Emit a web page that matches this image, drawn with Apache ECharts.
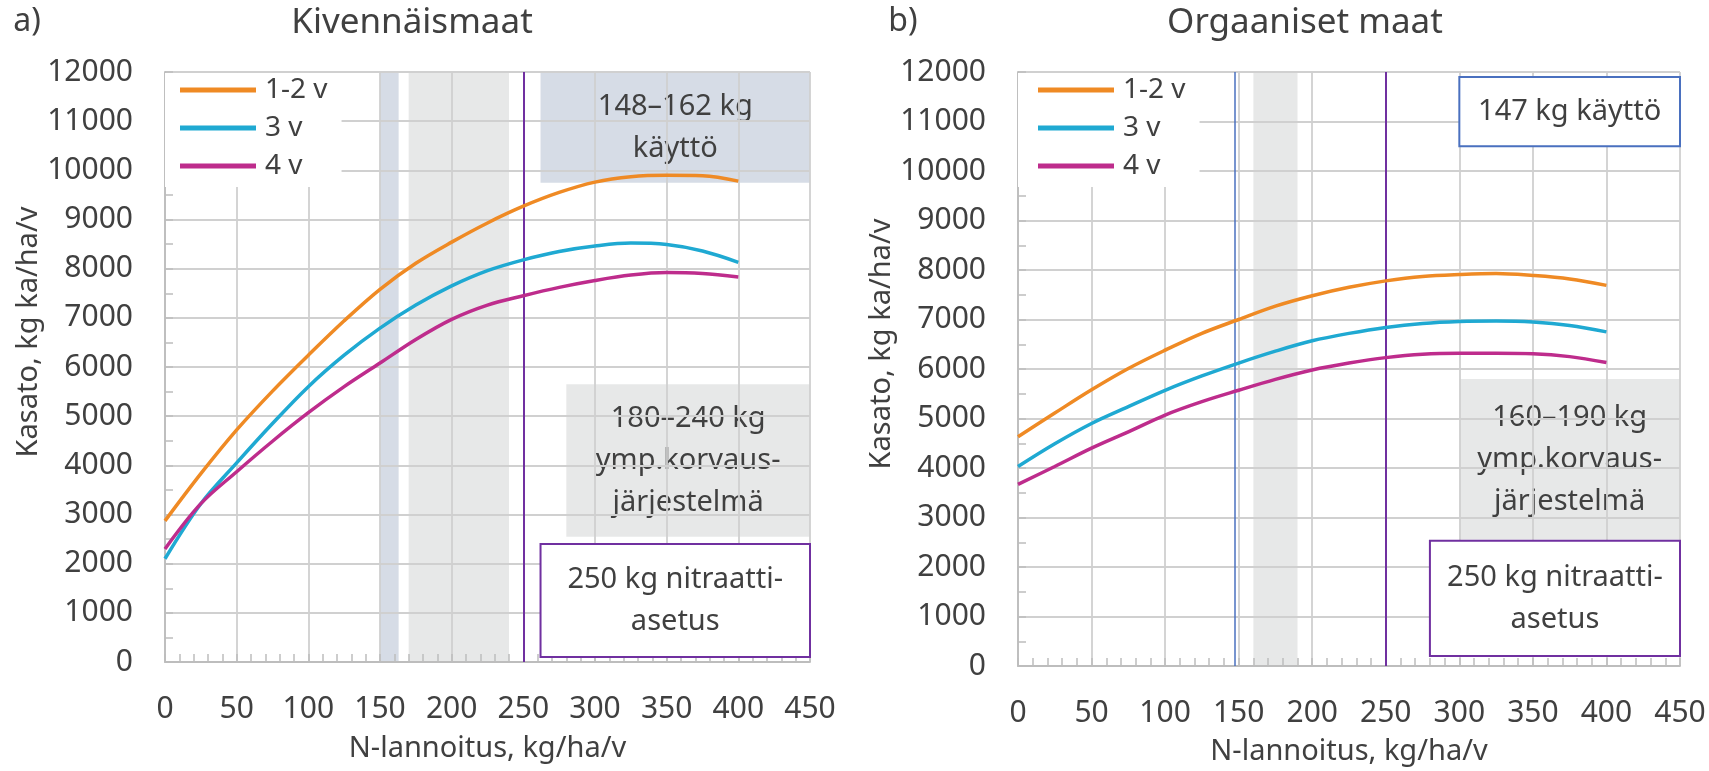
<!DOCTYPE html>
<html>
<head>
<meta charset="utf-8">
<title>Kasato ja N-lannoitus</title>
<script src="https://cdn.jsdelivr.net/npm/echarts@6/dist/echarts.min.js"></script>
<style>
  html, body { margin: 0; padding: 0; background: #fff; }
  #chart { width: 1709px; height: 771px; }
</style>
</head>
<body>
<div id="chart"></div>
<script>
// N-lannoitus, kg/ha/v
var nRates = [0, 25, 50, 75, 100, 125, 150, 175, 200, 225, 250, 275, 300, 325, 350, 375, 400];
var seriesNames = ['1-2 v', '3 v', '4 v'];

// a) Kivennäismaat, kg ka/ha/v
var kivYield12 = [2870, 3830, 4720, 5510, 6240, 6940, 7580, 8110, 8540, 8930, 9270, 9550, 9760, 9870, 9900, 9890, 9780];
var kivYield3 = [2100, 3220, 4050, 4850, 5600, 6240, 6790, 7260, 7650, 7960, 8180, 8350, 8460, 8520, 8490, 8360, 8130];
var kivYield4 = [2300, 3220, 3870, 4490, 5070, 5600, 6080, 6560, 6970, 7260, 7450, 7620, 7760, 7870, 7920, 7900, 7830];

// b) Orgaaniset maat, kg ka/ha/v
var orgYield12 = [4630, 5110, 5580, 6010, 6380, 6720, 7000, 7270, 7480, 7650, 7780, 7870, 7910, 7930, 7890, 7820, 7690];
var orgYield3 = [4030, 4490, 4900, 5240, 5570, 5860, 6120, 6360, 6570, 6720, 6840, 6920, 6960, 6970, 6950, 6880, 6750];
var orgYield4 = [3670, 4030, 4400, 4730, 5070, 5340, 5570, 5790, 5980, 6120, 6230, 6300, 6320, 6320, 6310, 6250, 6130];

// rajat ja laatikot (x kg/ha/v, y kg ka/ha/v)
var kivUseBand = [150, 163];
var kivSubsidyBand = [170, 240];
var kivUseBox = [262, 9750, 450, 12000];
var kivSubsidyBox = [280, 2550, 450, 5650];
var kivNitrateBox = [262, 100, 450, 2400];
var kivUseText = ['148–162 kg', 'käyttö'];
var kivSubsidyText = ['180–240 kg', 'ymp.korvaus-', 'järjestelmä'];

var orgSubsidyBand = [160, 190];
var orgUseBox = [300, 10500, 450, 11900];
var orgSubsidyBox = [300, 2550, 450, 5800];
var orgNitrateBox = [280, 200, 450, 2530];
var orgUseText = ['147 kg käyttö'];
var orgSubsidyText = ['160–190 kg', 'ymp.korvaus-', 'järjestelmä'];
var orgUseLimit = 147;

var nitrateLimit = 250;
var nitrateText = ['250 kg nitraatti-', 'asetus'];

var yMax = 12000;

var FONT = '"Noto Sans", "Open Sans", sans-serif';
var TEXT = '#404040';
var colors = ['#EF8A24', '#1FA9D2', '#BE2C8C'];
var BLUE_FILL = '#D6DCE6';
var GRAY_FILL = '#E7E8E8';
var PURPLE = '#7030A0';
var BLUE_LINE = '#4A70BF';
var GRID_LINE = '#d0d0d0';
var AXIS_LINE = '#bdbdbd';

function pairs(ys) {
  return nRates.map(function (x, i) { return [x, ys[i]]; });
}

function band(r, fill) {
  return { rect: [r[0], 0, r[1], yMax], fill: fill };
}

// laatikot piirretään akseleiden kautta (api.coord)
function shapeSeries(idx, shapes, z) {
  return {
    type: 'custom',
    name: 'shapes' + idx + '_' + z,
    xAxisIndex: idx,
    yAxisIndex: idx,
    z: z,
    silent: true,
    data: shapes.map(function (s) { return s.rect; }),
    renderItem: function (params, api) {
      var s = shapes[params.dataIndex];
      var p0 = api.coord([api.value(0), api.value(1)]);
      var p1 = api.coord([api.value(2), api.value(3)]);
      var x = Math.min(p0[0], p1[0]), y = Math.min(p0[1], p1[1]);
      var w = Math.abs(p1[0] - p0[0]), h = Math.abs(p1[1] - p0[1]);
      var kids = [{
        type: 'rect',
        shape: { x: x, y: y, width: w, height: h },
        style: { fill: s.fill, stroke: s.stroke || null, lineWidth: s.stroke ? 2 : 0 }
      }];
      if (s.lines) {
        kids.push({
          type: 'text',
          style: {
            x: x + w / 2, y: y + h / 2, text: s.lines.join('\n'),
            fill: TEXT, fontSize: 29, fontFamily: FONT, lineHeight: 42,
            align: 'center', verticalAlign: 'middle'
          }
        });
      }
      return { type: 'group', children: kids };
    }
  };
}

function limitSeries(idx, lines) {
  return {
    type: 'line', name: 'limits' + idx, xAxisIndex: idx, yAxisIndex: idx, data: [],
    markLine: {
      silent: true, symbol: ['none', 'none'], label: { show: false },
      animation: false,
      data: lines.map(function (l) {
        return { xAxis: l[0], lineStyle: { color: l[1], width: l[2], type: 'solid' } };
      })
    }
  };
}

function lineSeries(idx, ys, i) {
  return {
    type: 'line', name: seriesNames[i], xAxisIndex: idx, yAxisIndex: idx,
    data: pairs(ys), smooth: 0.35, showSymbol: false, symbol: 'none', z: 6,
    lineStyle: { color: colors[i], width: 3.5 }, itemStyle: { color: colors[i] }
  };
}

function xAxis(idx, gap) {
  return {
    gridIndex: idx, type: 'value', min: 0, max: 450, interval: 50, z: 2,
    axisLine: { show: true, onZero: false, lineStyle: { color: AXIS_LINE, width: 1.8 } },
    axisTick: { show: true, inside: true, length: 8, lineStyle: { color: AXIS_LINE, width: 1.5 } },
    minorTick: { show: true, splitNumber: 5, length: 8, lineStyle: { color: AXIS_LINE, width: 1.5 } },
    splitLine: { show: true, lineStyle: { color: GRID_LINE, width: 1.8 } },
    axisLabel: { color: TEXT, fontSize: 30, fontFamily: FONT, margin: 32, formatter: function (v) { return String(v); } },
    name: 'N-lannoitus, kg/ha/v', nameLocation: 'middle', nameGap: gap,
    nameTextStyle: { color: TEXT, fontSize: 29, fontFamily: FONT }
  };
}

function yAxis(idx, gap, shift) {
  return {
    gridIndex: idx, type: 'value', min: 0, max: yMax, interval: 1000, z: 2,
    axisLine: { show: true, onZero: false, lineStyle: { color: AXIS_LINE, width: 1.8 } },
    axisTick: { show: true, inside: true, length: 8, lineStyle: { color: AXIS_LINE, width: 1.5 } },
    minorTick: { show: true, splitNumber: 2, length: 8, lineStyle: { color: AXIS_LINE, width: 1.5 } },
    splitLine: { show: true, lineStyle: { color: GRID_LINE, width: 1.8 } },
    axisLabel: { color: TEXT, fontSize: 30, fontFamily: FONT, margin: 32, formatter: function (v) { return String(v); } },
    name: 'Kasato, kg ka/ha/v', nameLocation: 'middle', nameGap: gap,
    nameTextStyle: { color: TEXT, fontSize: 29, fontFamily: FONT, padding: [0, 0, 0, shift] }
  };
}

function legend(left, padLeft) {
  return {
    data: seriesNames, orient: 'vertical', left: left, top: 73,
    padding: [2, 14, 6, padLeft], backgroundColor: '#fff', z: 7,
    itemWidth: 76, itemHeight: 5, itemGap: 8, icon: 'rect',
    selectedMode: false,
    textStyle: { color: TEXT, fontSize: 28, fontFamily: FONT, lineHeight: 30, padding: [0, 0, 0, 4] }
  };
}

function titleText(text, x, top, size) {
  return {
    text: text, left: x, top: top, textAlign: 'center', padding: 0,
    textStyle: { color: TEXT, fontSize: size, fontWeight: 'normal', fontFamily: FONT }
  };
}

var chart = echarts.init(document.getElementById('chart'), null, { renderer: 'canvas' });

chart.setOption({
  animation: false,
  backgroundColor: '#fff',
  title: [
    titleText('a)', 27, 6, 32),
    titleText('Kivennäismaat', 412, 6, 35),
    titleText('b)', 903, 6, 32),
    titleText('Orgaaniset maat', 1305, 6, 35)
  ],
  legend: [legend(165, 15), legend(1018, 20)],
  grid: [
    { left: 165, right: 899, top: 72, bottom: 109, containLabel: false, outerBoundsMode: 'none' },
    { left: 1018, right: 29, top: 72, bottom: 105, containLabel: false, outerBoundsMode: 'none' }
  ],
  xAxis: [xAxis(0, 72), xAxis(1, 71)],
  yAxis: [yAxis(0, 113, 70), yAxis(1, 104, 50)],
  series: [
    shapeSeries(0, [
      band(kivUseBand, BLUE_FILL),
      band(kivSubsidyBand, GRAY_FILL),
      { rect: kivUseBox, fill: BLUE_FILL, lines: kivUseText },
      { rect: kivSubsidyBox, fill: GRAY_FILL, lines: kivSubsidyText }
    ], 1),
    shapeSeries(0, [
      { rect: kivNitrateBox, fill: '#fff', stroke: PURPLE, lines: nitrateText }
    ], 3),
    limitSeries(0, [[nitrateLimit, PURPLE, 2]]),
    lineSeries(0, kivYield12, 0),
    lineSeries(0, kivYield3, 1),
    lineSeries(0, kivYield4, 2),

    shapeSeries(1, [
      band(orgSubsidyBand, GRAY_FILL),
      { rect: orgSubsidyBox, fill: GRAY_FILL, lines: orgSubsidyText }
    ], 1),
    shapeSeries(1, [
      { rect: orgUseBox, fill: '#fff', stroke: BLUE_LINE, lines: orgUseText },
      { rect: orgNitrateBox, fill: '#fff', stroke: PURPLE, lines: nitrateText }
    ], 3),
    limitSeries(1, [[orgUseLimit, BLUE_LINE, 1.5], [nitrateLimit, PURPLE, 2]]),
    lineSeries(1, orgYield12, 0),
    lineSeries(1, orgYield3, 1),
    lineSeries(1, orgYield4, 2)
  ]
});
</script>
</body>
</html>
